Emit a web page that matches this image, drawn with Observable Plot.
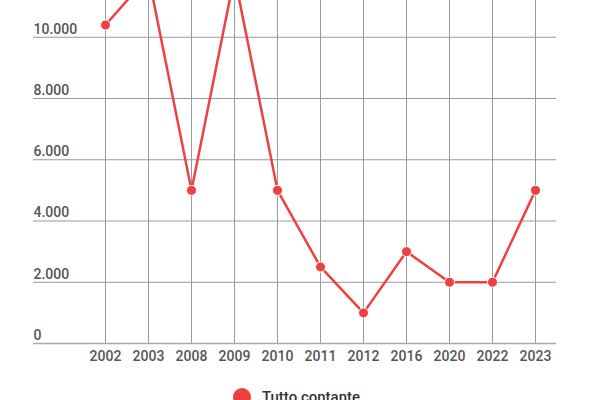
<!DOCTYPE html>
<html>
<head>
<meta charset="utf-8">
<script src="https://cdn.jsdelivr.net/npm/d3@7"></script>
<script src="https://cdn.jsdelivr.net/npm/@observablehq/plot@0.6"></script>
<style>
  html, body { margin: 0; padding: 0; background: #fff; overflow: hidden; }
  #wrap { position: relative; width: 600px; height: 400px; font-family: Roboto, sans-serif; }
  #legend { position: absolute; left: 233px; top: 388px; display: flex; align-items: center; gap: 11px; }
  #legend .sw { width: 18px; height: 18px; border-radius: 50%; background: #ee4040; }
  #legend .lb { font-size: 15px; color: #333; font-weight: 500; }
</style>
</head>
<body>
<div id="wrap"></div>
<script>
const years = ["2002","2003","2008","2009","2010","2011","2012","2016","2020","2022","2023"];
const values = [10400, 12000, 5000, 12000, 5000, 2500, 1000, 3000, 2000, 2000, 5000];
const yTicks = [0, 2000, 4000, 6000, 8000, 10000];
const seriesName = "Tutto contante";
const lineColor = "#ee4040";

const data = years.map((y, i) => ({year: y, value: values[i]}));
const it = d3.formatLocale({decimal: ",", thousands: ".", grouping: [3], currency: ["€", ""]});
const fmt = it.format(",d");

const chart = Plot.plot({
  width: 600,
  height: 400,
  marginTop: 0,
  marginLeft: 33,
  marginRight: 44,
  marginBottom: 57,
  style: {fontFamily: "Roboto, sans-serif", fontSize: "14px", fontWeight: 500, color: "#555", background: "transparent"},
  x: {type: "point", domain: years, padding: 1.081, align: 0.774, label: null, axis: null},
  y: {domain: [0, 11200], label: null, axis: null},
  marks: [
    Plot.ruleX(years, {x: d => d, stroke: "#999", strokeWidth: 1, strokeOpacity: 1}),
    Plot.ruleY(yTicks.slice(1), {y: d => d, stroke: "#999", strokeWidth: 1, strokeOpacity: 1}),
    Plot.ruleY([0], {stroke: "#aaa", strokeWidth: 1.5}),
    Plot.text(yTicks, {y: d => d, text: d => fmt(d), frameAnchor: "left", textAnchor: "start", dy: -8, fill: "#555", fontSize: 14, fontWeight: 500}),
    Plot.axisX({tickSize: 0, tickPadding: 8, label: null, fill: "#555", fontSize: 14, fontWeight: 500}),
    Plot.line(data, {x: "year", y: "value", stroke: lineColor, strokeWidth: 2.5, clip: true}),
    Plot.dot(data, {x: "year", y: "value", r: 5, fill: lineColor, stroke: "white", strokeWidth: 1, clip: true})
  ]
});

const wrap = document.getElementById("wrap");
wrap.appendChild(chart);
const legend = document.createElement("div");
legend.id = "legend";
legend.innerHTML = `<div class="sw"></div><div class="lb"></div>`;
legend.querySelector(".lb").textContent = seriesName;
wrap.appendChild(legend);
</script>
</body>
</html>
